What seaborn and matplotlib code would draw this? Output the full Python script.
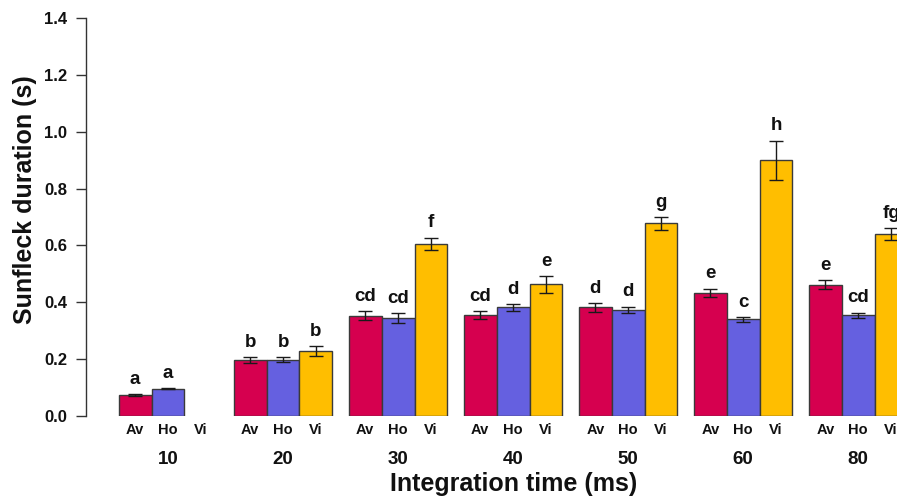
import numpy as np
import pandas as pd
import matplotlib
matplotlib.use("Agg")
import matplotlib.pyplot as plt
import seaborn as sns

# Mean sunfleck duration (s) and standard errors per integration time
times = ["10", "20", "30", "40", "50", "60", "80"]
species = ["Av", "Ho", "Vi"]
colors = ["#D6004F", "#6560E0", "#FFBE00"]

av_mean = [0.074, 0.197, 0.353, 0.355, 0.382, 0.434, 0.462]
ho_mean = [0.096, 0.198, 0.345, 0.382, 0.373, 0.340, 0.355]
vi_mean = [np.nan, 0.229, 0.605, 0.463, 0.678, 0.899, 0.639]

av_se = [0.003, 0.009, 0.016, 0.015, 0.016, 0.014, 0.015]
ho_se = [0.002, 0.009, 0.017, 0.011, 0.012, 0.008, 0.009]
vi_se = [np.nan, 0.017, 0.022, 0.030, 0.022, 0.070, 0.021]

av_letters = ["a", "b", "cd", "cd", "d", "e", "e"]
ho_letters = ["a", "b", "cd", "d", "d", "c", "cd"]
vi_letters = ["", "b", "f", "e", "g", "h", "fg"]

y_ticks = [0.0, 0.2, 0.4, 0.6, 0.8, 1.0, 1.2, 1.4]

means = [av_mean, ho_mean, vi_mean]
ses = [av_se, ho_se, vi_se]
letters = [av_letters, ho_letters, vi_letters]

rows = []
for sp, m, s, l in zip(species, means, ses, letters):
    for t, mv, sv, lv in zip(times, m, s, l):
        rows.append({"time": t, "species": sp, "mean": mv, "se": sv, "letter": lv})
df = pd.DataFrame(rows)
df_bars = df.dropna(subset=["mean"])

sns.set_style("white")
plt.rcParams["font.family"] = ["Liberation Sans", "DejaVu Sans"]
plt.rcParams["font.weight"] = "bold"

W, H = 897, 500
fig = plt.figure(figsize=(W / 100, H / 100), dpi=100)
ax_left, ax_bottom, ax_top = 86, 416, 18
ax = fig.add_axes([ax_left / W, 1 - ax_bottom / H, 1 - ax_left / W, (ax_bottom - ax_top) / H])
span = ax_bottom - ax_top

group_width = 6 / 7
sns.barplot(
    data=df_bars, x="time", y="mean", hue="species",
    order=times, hue_order=species, palette=colors,
    width=group_width, dodge=True, errorbar=None, saturation=1,
    edgecolor="#3a3a3a", linewidth=1, legend=False, ax=ax,
)

bar_w = group_width / len(species)
centers = np.arange(len(times))
for i, sp in enumerate(species):
    xs = centers + (i - 1) * bar_w
    m = np.array(means[i], dtype=float)
    s = np.array(ses[i], dtype=float)
    ok = ~np.isnan(m)
    ax.errorbar(xs[ok], m[ok], yerr=s[ok], fmt="none", ecolor="#1a1a1a",
                elinewidth=1, capsize=5, capthick=1, zorder=5)
    for x, mv, sv, lv in zip(xs, m, s, letters[i]):
        if lv and not np.isnan(mv):
            ax.text(x, mv + sv + 0.052, lv, ha="center", va="center",
                    fontsize=13.5, fontweight="bold", color="#111111")
    # species labels under each bar
    for x in xs:
        ax.text(x, -(430 - ax_bottom) / span, sp,
                transform=ax.get_xaxis_transform(), ha="center", va="center",
                fontsize=10.5, fontweight="bold", color="#111111")

# integration-time group labels
for x, t in zip(centers, times):
    ax.text(x, -(459.5 - ax_bottom) / span, t,
            transform=ax.get_xaxis_transform(), ha="center", va="center",
            fontsize=13.5, fontweight="bold", color="#111111")

ax.text(3, -(491 - ax_bottom) / span, "Integration time (ms)",
        transform=ax.get_xaxis_transform(), ha="center", va="baseline",
        fontsize=18, fontweight="bold", color="#111111")

fig.text(25 / W, 1 - 200 / H, "Sunfleck duration (s)", rotation=90,
         ha="center", va="center", fontsize=18, fontweight="bold", color="#111111")

ax.set_xlim(-0.713, 6.337)
ax.set_ylim(0, 1.4)
ax.set_xticks([])
ax.set_yticks(y_ticks)
ax.set_yticklabels([f"{v:.1f}" for v in y_ticks], fontsize=12, fontweight="bold", color="#111111")
ax.set_xlabel("")
ax.set_ylabel("")
ax.tick_params(axis="y", which="major", left=True, length=7.5, width=1,
               color="#333333", pad=6, direction="out")
for side in ["top", "right", "bottom"]:
    ax.spines[side].set_visible(False)
ax.spines["left"].set_bounds(0, 1.4)
ax.spines["left"].set_color("#333333")
ax.spines["left"].set_linewidth(1)
ax.patch.set_alpha(0)

fig.savefig("out.png", dpi=100)
